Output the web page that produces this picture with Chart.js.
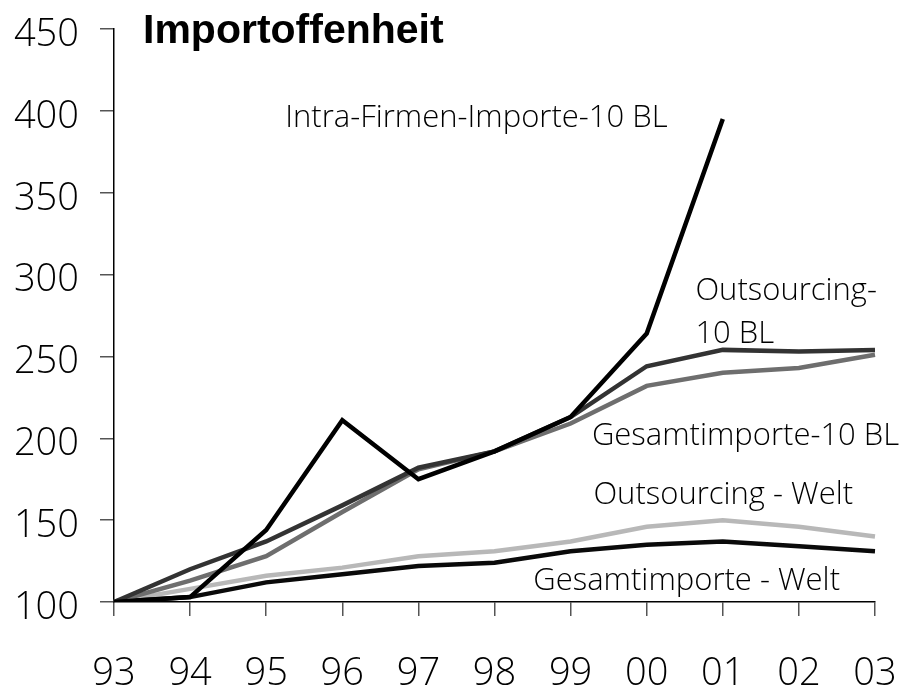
<!DOCTYPE html>
<html>
<head>
<meta charset="utf-8">
<script src="https://cdn.jsdelivr.net/npm/chart.js@4/dist/chart.umd.min.js"></script>
<style>
  html, body { margin: 0; padding: 0; background: #fff; }
  #wrap { width: 904px; height: 691px; }
</style>
</head>
<body>
<div id="wrap"><canvas id="chart" width="904" height="691"></canvas></div>
<script>
// data
const years = ["93", "94", "95", "96", "97", "98", "99", "00", "01", "02", "03"];
const intraFirmen = [100, 103, 144, 211, 175, 192, 213, 264, 395];
const outsourcing10 = [100, 120, 137, 159, 182, 192, 213, 244, 254, 253, 254];
const gesamt10 = [100, 113, 128, 155, 181, 192, 209, 232, 240, 243, 251];
const outsourcingWelt = [100, 108, 116, 121, 128, 131, 137, 146, 150, 146, 140];
const gesamtWelt = [100, 103, 112, 117, 122, 124, 131, 135, 137, 134, 131];
const yTicks = [100, 150, 200, 250, 300, 350, 400, 450];

// line labels: [text, x (category index), y (value)]
const lineLabels = [
  ["Intra-Firmen-Importe-10 BL", 2.25, 390],
  ["Outsourcing-", 7.64, 284.5],
  ["10 BL", 7.64, 258.5],
  ["Gesamtimporte-10 BL", 6.28, 196],
  ["Outsourcing - Welt", 6.3, 160],
  ["Gesamtimporte - Welt", 5.51, 107.3],
];

const labelFont = "300 31px 'Open Sans', 'DejaVu Sans', sans-serif";
const tickFont = { family: "'Open Sans', 'DejaVu Sans', sans-serif", size: 38, weight: 300 };

// title + labels drawn on canvas
const textPlugin = {
  id: "texts",
  afterDatasetsDraw(chart) {
    const { ctx, scales } = chart;
    ctx.save();
    ctx.fillStyle = "#000";
    ctx.font = "bold 41px 'Liberation Sans', Arial, sans-serif";
    ctx.textAlign = "left";
    ctx.textBaseline = "alphabetic";
    ctx.fillText("Importoffenheit", 143, 43);

    ctx.font = labelFont;
    lineLabels.forEach(([txt, xi, v]) => {
      ctx.fillText(txt, scales.x.getPixelForValue(xi), scales.y.getPixelForValue(v));
    });
    ctx.restore();
  },
};

const line = (data, color) => ({
  data,
  borderColor: color,
  borderWidth: 4.5,
  pointRadius: 0,
  tension: 0,
  fill: false,
});

// no extra padding from tick labels, layout padding decides the plot box
const noPad = (axis) => {
  axis.paddingTop = 0;
  axis.paddingBottom = 0;
  axis.paddingLeft = 0;
  axis.paddingRight = 0;
};

new Chart(document.getElementById("chart"), {
  type: "line",
  data: {
    labels: years,
    datasets: [
      line(intraFirmen, "#000000"),
      line(outsourcing10, "#333333"),
      line(gesamt10, "#6e6e6e"),
      line(gesamtWelt, "#0a0a0a"),
      line(outsourcingWelt, "#b8b8b8"),
    ],
  },
  options: {
    responsive: false,
    animation: false,
    layout: { padding: { top: 29, right: 29, left: 0, bottom: 0 } },
    plugins: { legend: { display: false }, tooltip: { enabled: false } },
    scales: {
      x: {
        offset: false,
        grid: { drawOnChartArea: false, drawTicks: true, tickLength: 14, color: "#555", lineWidth: 1.5 },
        border: { color: "#000", width: 1.5 },
        ticks: { font: tickFont, color: "#000", padding: 35, maxRotation: 0, autoSkip: false },
        afterFit(axis) { axis.height = 89; noPad(axis); },
      },
      y: {
        min: 100,
        max: 450,
        afterBuildTicks(axis) { axis.ticks = yTicks.map((v) => ({ value: v })); },
        grid: { drawOnChartArea: false, drawTicks: true, tickLength: 14, color: "#555", lineWidth: 1.5 },
        border: { color: "#000", width: 1.5 },
        ticks: { font: tickFont, color: "#000", padding: 21, labelOffset: 6 },
        afterFit(axis) { axis.width = 114; noPad(axis); },
      },
    },
  },
  plugins: [textPlugin],
});
</script>
</body>
</html>
